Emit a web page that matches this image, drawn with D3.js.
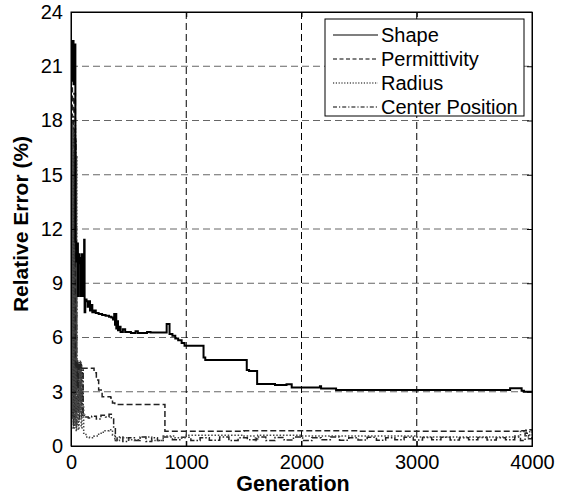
<!DOCTYPE html>
<html><head><meta charset="utf-8">
<script src="https://cdn.jsdelivr.net/npm/d3@7/dist/d3.min.js"></script>
<style>body{margin:0;background:#fff}svg{display:block}text{font-family:"Liberation Sans",Arial,sans-serif}</style>
</head><body><svg id="c" width="566" height="497"></svg>
<script>
const xTicks=[0,1000,2000,3000,4000];
const yTicks=[0,3,6,9,12,15,18,21,24];
const seriesNames=["Shape","Permittivity","Radius","Center Position"];
// [generation, relative error %]
const shape=[[0,22.3],[8,20.2],[14,22.4],[22,20.0],[30,22.2],[38,11.3],[45,10.2],[52,11.2],[60,8.3],[66,10.6],[72,10.1],[78,10.4],[84,8.3],[92,10.6],[100,8.3],[108,10.3],[114,11.4],[118,7.4],[124,8.1],[135,8.0],[145,7.7],[155,8.0],[165,7.5],[175,7.8],[185,7.4],[200,7.5],[215,7.35],[240,7.3],[270,7.25],[300,7.2],[330,7.15],[350,7.1],[365,7.0],[375,7.3],[382,6.7],[388,7.3],[393,6.5],[400,6.9],[408,6.4],[420,6.6],[430,6.3],[450,6.45],[470,6.3],[520,6.25],[560,6.35],[580,6.25],[640,6.25],[660,6.3],[690,6.27],[830,6.75],[855,6.2],[880,6.1],[905,5.95],[930,5.85],[960,5.7],[985,5.55],[1150,4.9],[1165,4.76],[1525,4.2],[1545,4.15],[1615,3.43],[1770,3.38],[1870,3.42],[1915,3.24],[2160,3.3],[2170,3.18],[2300,3.1],[3810,3.2],[3910,3.05],[3930,3.0],[4000,3.0]];
const permittivity=[[0,19.8],[12,18.2],[25,19.5],[38,4.3],[45,4.7],[55,3.2],[62,4.6],[70,4.2],[80,4.5],[90,4.3],[200,4.05],[220,3.65],[240,3.1],[270,2.73],[345,2.65],[360,2.38],[380,2.3],[815,0.82],[1500,0.85],[2500,0.82],[3900,0.85],[3950,0.9],[4000,0.85]];
const radius=[[0,17.8],[3,1.0],[6,17.5],[9,2.0],[12,17.8],[15,1.5],[18,16.5],[21,3.0],[24,17.5],[27,1.0],[30,15],[33,2.5],[36,17.8],[39,1.2],[42,12],[45,0.8],[48,16],[51,4.5],[55,1.2],[60,4.6],[64,0.9],[70,4.4],[76,1.8],[82,4.7],[88,1.0],[95,4.0],[102,2.2],[110,0.7],[130,0.5],[160,0.45],[200,0.55],[240,0.7],[280,0.85],[330,0.9],[360,0.6],[380,0.3],[420,0.45],[500,0.35],[600,0.5],[700,0.3],[800,0.55],[900,0.45],[1000,0.6],[1200,0.6],[1500,0.55],[1600,0.3],[1620,0.6],[2000,0.55],[3000,0.5],[3850,0.55],[3900,0.8],[3950,0.5],[3980,0.9],[4000,0.6]];
const centerPosition=[[0,17.5],[2,2],[5,18],[8,1.5],[11,17],[14,3.5],[17,18],[20,1.0],[23,16],[26,2.2],[29,17.5],[32,1.5],[35,14],[38,3.0],[41,17],[44,1.0],[47,10],[50,3.5],[53,4.7],[58,2.0],[63,4.5],[68,1.5],[74,4.6],[80,2.4],[86,4.5],[92,1.6],[100,4.2],[106,1.7],[120,1.6],[150,1.55],[180,1.65],[220,1.5],[260,1.7],[300,1.6],[330,1.75],[350,1.5],[370,1.0],[385,0.3],[400,0.5],[450,0.25],[500,0.45],[550,0.3],[600,0.5],[650,0.25],[700,0.45],[750,0.3],[800,0.5],[880,0.35],[960,0.48],[1040,0.3],[1120,0.45],[1200,0.32],[1290,0.5],[1370,0.3],[1450,0.45],[1530,0.35],[1610,0.5],[1690,0.3],[1770,0.47],[1850,0.33],[1930,0.5],[2010,0.3],[2090,0.45],[2170,0.35],[2250,0.5],[2330,0.32],[2410,0.46],[2490,0.33],[2570,0.48],[2650,0.32],[2730,0.46],[2810,0.34],[2890,0.48],[2970,0.33],[3050,0.47],[3130,0.34],[3210,0.48],[3290,0.33],[3370,0.46],[3450,0.34],[3530,0.47],[3610,0.33],[3690,0.46],[3770,0.35],[3850,0.5],[3900,0.3],[3940,0.7],[3970,0.4],[4000,0.5]];

const svg=d3.select("#c");
const L=71,R=532,T=12,B=446;
const x=d3.scaleLinear().domain([0,4000]).range([L,R]);
const y=d3.scaleLinear().domain([0,24]).range([B,T]);
const fs=20;

svg.append("defs").append("clipPath").attr("id","clip").append("rect").attr("x",L).attr("y",T).attr("width",R-L).attr("height",B-T);

// grid
svg.append("g").selectAll("line").data(yTicks.slice(1,-1)).join("line")
 .attr("x1",L).attr("x2",R).attr("y1",d=>y(d)).attr("y2",d=>y(d))
 .attr("stroke","#666").attr("stroke-width",1).attr("stroke-dasharray","7,4");
svg.append("g").selectAll("line").data(xTicks.slice(1,-1)).join("line")
 .attr("y1",T).attr("y2",B).attr("x1",d=>x(d)).attr("x2",d=>x(d))
 .attr("stroke","#000").attr("stroke-width",1).attr("stroke-dasharray","7,4");

const line=d3.line().x(d=>x(d[0])).y(d=>y(d[1])).curve(d3.curveStepAfter);
const styles=[
 {data:shape,stroke:"#000",w:2,dash:null},
 {data:permittivity,stroke:"#222",w:1.5,dash:"6,3"},
 {data:radius,stroke:"#444",w:1.5,dash:"1.5,1.8"},
 {data:centerPosition,stroke:"#222",w:1.5,dash:"6,2,1.5,2"}
];
const pg=svg.append("g").attr("clip-path","url(#clip)");
[3,2,1,0].forEach(i=>{
 const s=styles[i];
 pg.append("path").attr("d",line(s.data)).attr("fill","none").attr("stroke",s.stroke)
  .attr("stroke-width",s.w).attr("stroke-dasharray",s.dash);
});

// axes box and ticks
const ax=svg.append("g");
ax.append("g").attr("transform",`translate(0,${B})`).call(d3.axisBottom(x).tickValues(xTicks).tickSize(-5).tickPadding(9).tickFormat(d3.format("d")));
ax.append("g").attr("transform",`translate(0,${T})`).call(d3.axisTop(x).tickValues(xTicks).tickSize(-5).tickFormat(""));
ax.append("g").attr("transform",`translate(${L},0)`).call(d3.axisLeft(y).tickValues(yTicks).tickSize(-5).tickPadding(8));
ax.append("g").attr("transform",`translate(${R},0)`).call(d3.axisRight(y).tickValues(yTicks).tickSize(-5).tickFormat(""));
ax.selectAll(".domain").attr("stroke","#000");
ax.selectAll(".tick line").attr("stroke","#000");
ax.selectAll("text").attr("font-size",fs).attr("font-family","'Liberation Sans',Arial,sans-serif").attr("fill","#000");
svg.append("rect").attr("x",L).attr("y",T).attr("width",R-L).attr("height",B-T).attr("fill","none").attr("stroke","#000");

svg.append("text").attr("x",293).attr("y",491).attr("text-anchor","middle").attr("font-size",21.5).attr("font-weight","bold").text("Generation");
svg.append("text").attr("transform",`translate(28,224) rotate(-90)`).attr("text-anchor","middle").attr("font-size",21).attr("font-weight","bold").text("Relative Error (%)");

// legend
const lg=svg.append("g");
lg.append("rect").attr("x",325).attr("y",19).attr("width",199).attr("height",97).attr("fill","#fff").attr("stroke","#000");
seriesNames.forEach((n,i)=>{
 const yy=35+i*24;
 lg.append("line").attr("x1",333).attr("x2",378).attr("y1",yy).attr("y2",yy).attr("stroke","#000").attr("stroke-width",1.1).attr("stroke-dasharray",i==1?"4,2.5":i==2?"1.2,1.6":i==3?"4,2,1.2,2":null);
 lg.append("text").attr("x",381).attr("y",yy+7).attr("font-size",20).text(n);
});
</script></body></html>
